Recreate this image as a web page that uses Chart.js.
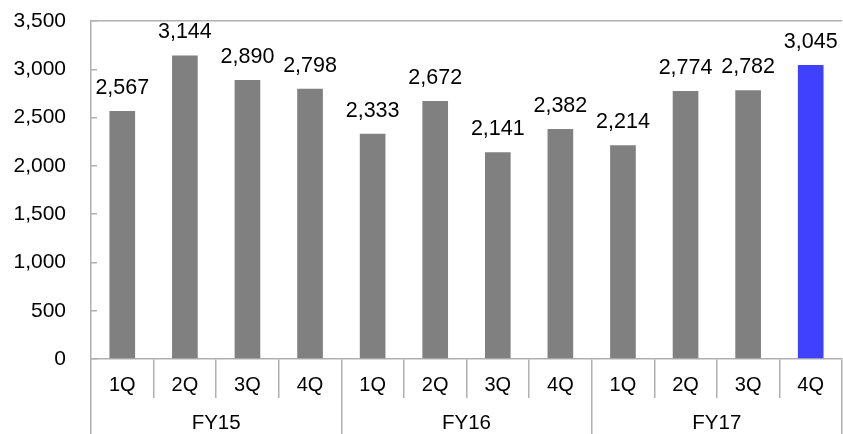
<!DOCTYPE html>
<html>
<head>
<meta charset="utf-8">
<script src="https://cdn.jsdelivr.net/npm/chart.js"></script>
<style>
html,body{margin:0;padding:0;background:#fff;}
canvas{display:block;}
</style>
</head>
<body>
<canvas id="c" width="843" height="434"></canvas>
<script>
const quarters = ['1Q','2Q','3Q','4Q','1Q','2Q','3Q','4Q','1Q','2Q','3Q','4Q'];
const fiscalYears = ['FY15','FY16','FY17'];
const values = [2567, 3144, 2890, 2798, 2333, 2672, 2141, 2382, 2214, 2774, 2782, 3045];
const barColors = ['#808080','#808080','#808080','#808080','#808080','#808080','#808080','#808080','#808080','#808080','#808080','#4040ff'];
const yTicks = [0, 500, 1000, 1500, 2000, 2500, 3000, 3500];

const lineColor = '#b0b0b0';
const fontFamily = '"Liberation Sans", Arial, sans-serif';

const valueLabels = {
  id: 'valueLabels',
  afterDatasetsDraw(chart) {
    const ctx = chart.ctx;
    const meta = chart.getDatasetMeta(0);
    ctx.save();
    ctx.font = '21.5px ' + fontFamily;
    ctx.fillStyle = '#000';
    ctx.textAlign = 'center';
    ctx.textBaseline = 'alphabetic';
    meta.data.forEach((bar, i) => {
      ctx.fillText(values[i].toLocaleString('en-US'), bar.x, bar.y - 17);
    });
    ctx.restore();
  }
};

new Chart(document.getElementById('c'), {
  type: 'bar',
  data: {
    labels: quarters,
    datasets: [{
      data: values,
      backgroundColor: barColors,
      xAxisID: 'x',
      yAxisID: 'y',
      categoryPercentage: 1,
      barPercentage: 0.41
    }]
  },
  options: {
    responsive: false,
    animation: false,
    events: [],
    layout: { padding: { top: 0, right: 1, bottom: 0, left: 0 } },
    plugins: { legend: { display: false }, tooltip: { enabled: false } },
    scales: {
      x: {
        type: 'category',
        position: 'bottom',
        weight: 0,
        offset: true,
        grid: { offset: true, drawOnChartArea: false, tickLength: 39, color: lineColor, lineWidth: 1.5 },
        border: { color: lineColor, width: 1.5 },
        ticks: { padding: -25, color: '#000', font: { family: fontFamily, size: 20 }, maxRotation: 0, autoSkip: false },
        afterFit(s) { s.height = 39; }
      },
      x2: {
        type: 'category',
        axis: 'x',
        position: 'bottom',
        weight: 1,
        labels: fiscalYears,
        offset: true,
        grid: { offset: true, drawOnChartArea: false, tickLength: 40, color: lineColor, lineWidth: 1.5 },
        border: { display: false },
        ticks: { padding: -27, color: '#000', font: { family: fontFamily, size: 20.5 }, maxRotation: 0, autoSkip: false },
        afterFit(s) { s.height = 36; }
      },
      y: {
        position: 'left',
        min: 0,
        max: 3500,
        afterBuildTicks(s) { s.ticks = yTicks.map(v => ({ value: v })); },
        grid: {
          drawOnChartArea: true,
          tickLength: -6,
          color: (c) => (c.tick && c.tick.value === 3500) ? lineColor : 'rgba(0,0,0,0)',
          tickColor: lineColor,
          lineWidth: 1.5
        },
        border: { color: lineColor, width: 1.5 },
        ticks: {
          padding: 31,
          color: '#000',
          font: { family: fontFamily, size: 21 },
          callback: (v) => Number(v).toLocaleString('en-US')
        },
        afterFit(s) { s.width = 91; s.paddingTop = 21; s.paddingBottom = 12; }
      }
    }
  },
  plugins: [valueLabels]
});
</script>
</body>
</html>
